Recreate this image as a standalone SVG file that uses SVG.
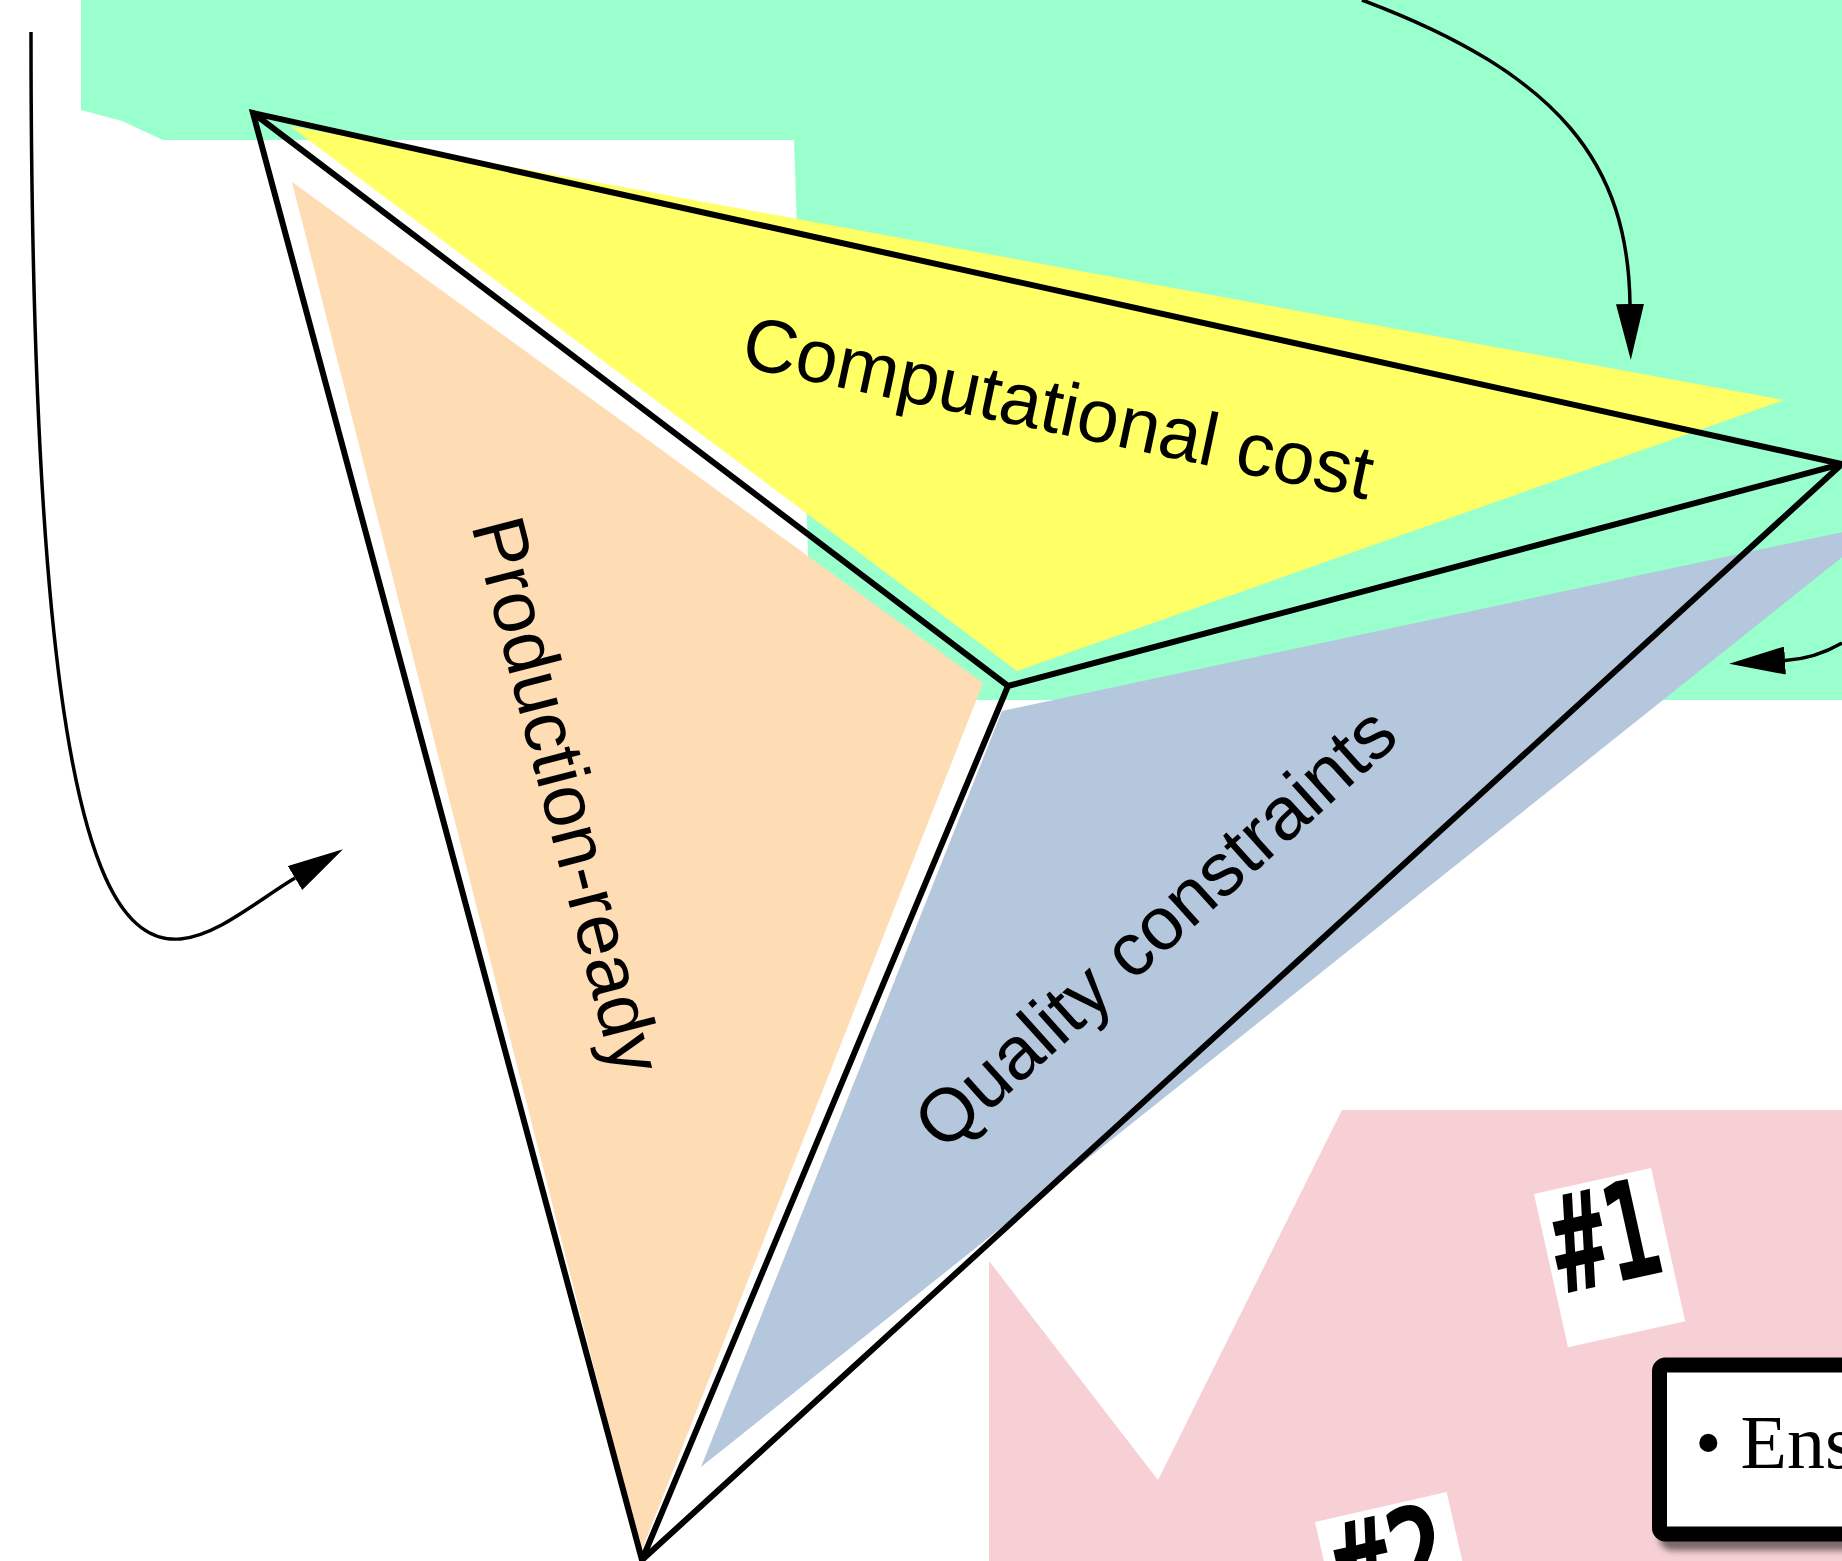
<svg xmlns="http://www.w3.org/2000/svg" width="1842" height="1561" viewBox="0 0 1842 1561">
  <style>
    .lbl { font-family: "Liberation Sans", Arial, Helvetica, sans-serif; font-size: 75px; fill: #000; }
    .edge { fill: none; stroke: #000; stroke-width: 6; stroke-linejoin: miter; stroke-miterlimit: 10; }
    .conn { fill: none; stroke: #000; stroke-width: 3.5; }
    .tag { font-family: "DejaVu Sans Mono", monospace; font-weight: bold; font-size: 135px; fill: #000; }
    .serif { font-family: "Liberation Serif", "Times New Roman", serif; font-size: 76px; fill: #000; }
  </style>
  <defs>
    <marker id="arrow" markerUnits="userSpaceOnUse" markerWidth="56" markerHeight="28" viewBox="0 0 56 28" refX="0" refY="14" orient="auto">
      <path d="M0,0 L56,14 L0,28 Z" fill="#000"/>
    </marker>
    <filter id="shadow" x="-10%" y="-10%" width="130%" height="140%">
      <feDropShadow dx="7" dy="9" stdDeviation="3" flood-color="#000" flood-opacity="0.5"/>
    </filter>
  </defs>

  <rect width="1842" height="1561" fill="#fff"/>

  <g id="green-region">
    <polygon points="81,0 1842,0 1842,700 813,700 794,140 163,140 122,121 81,110" fill="#99FFCC"/>
  </g>

  <g id="computational-cost">
    <polygon points="290,126 1784,400 1017,671" fill="#FFFF66"/>
  </g>

  <g id="production-ready">
    <polygon points="292,182 983,683 641,1552" fill="#FEDCB4"/>
  </g>

  <g id="quality-constraints">
    <polygon points="1002,711 1885,523 701,1467" fill="#B4C7DD"/>
  </g>

  <g id="pink-panel">
    <polygon points="989,1261 1158,1480 1342,1110 1842,1110 1842,1561 989,1561" fill="#F6D0D5"/>
  </g>

  <g id="pyramid">
    <path class="edge" d="M253,113 L1842,464 L642,1560 Z M253,113 L1008,686 L1842,464 M1008,686 L642,1560"/>
  </g>

  <g id="labels">
    <text class="lbl" x="739" y="366" transform="rotate(12 739 366)">Computational cost</text>
    <text class="lbl" x="471" y="525" transform="rotate(75.5 471 525)" font-size="74">Production-ready</text>
    <text class="lbl" x="943" y="1153" transform="rotate(-42 943 1153)">Quality constraints</text>
  </g>

  <g id="tag-1" transform="translate(1534,1194) rotate(-12.5)">
    <rect x="0" y="0" width="120" height="157" fill="#fff"/>
    <text class="tag" x="7" y="104" textLength="106" lengthAdjust="spacingAndGlyphs">#1</text>
  </g>

  <g id="tag-2" transform="translate(1315,1522) rotate(-12.8)">
    <rect x="0" y="0" width="135" height="157" fill="#fff"/>
    <text class="tag" x="6" y="104" textLength="116" lengthAdjust="spacingAndGlyphs">#2</text>
  </g>

  <g id="bullet-box">
    <rect x="1659.5" y="1365" width="320" height="169" rx="6" fill="#fff" stroke="#000" stroke-width="15" filter="url(#shadow)"/>
    <text class="serif" x="1695" y="1468">• Ens</text>
  </g>

  <g id="connectors">
    <path class="conn" d="M31,32 C31,1150 175,950 295,878" marker-end="url(#arrow)"/>
    <path class="conn" d="M1362,0 C1562,75 1628,165 1630,304" marker-end="url(#arrow)"/>
    <path class="conn" d="M1842,643 C1830,650 1810,659 1785,660.5" marker-end="url(#arrow)"/>
  </g>
</svg>
